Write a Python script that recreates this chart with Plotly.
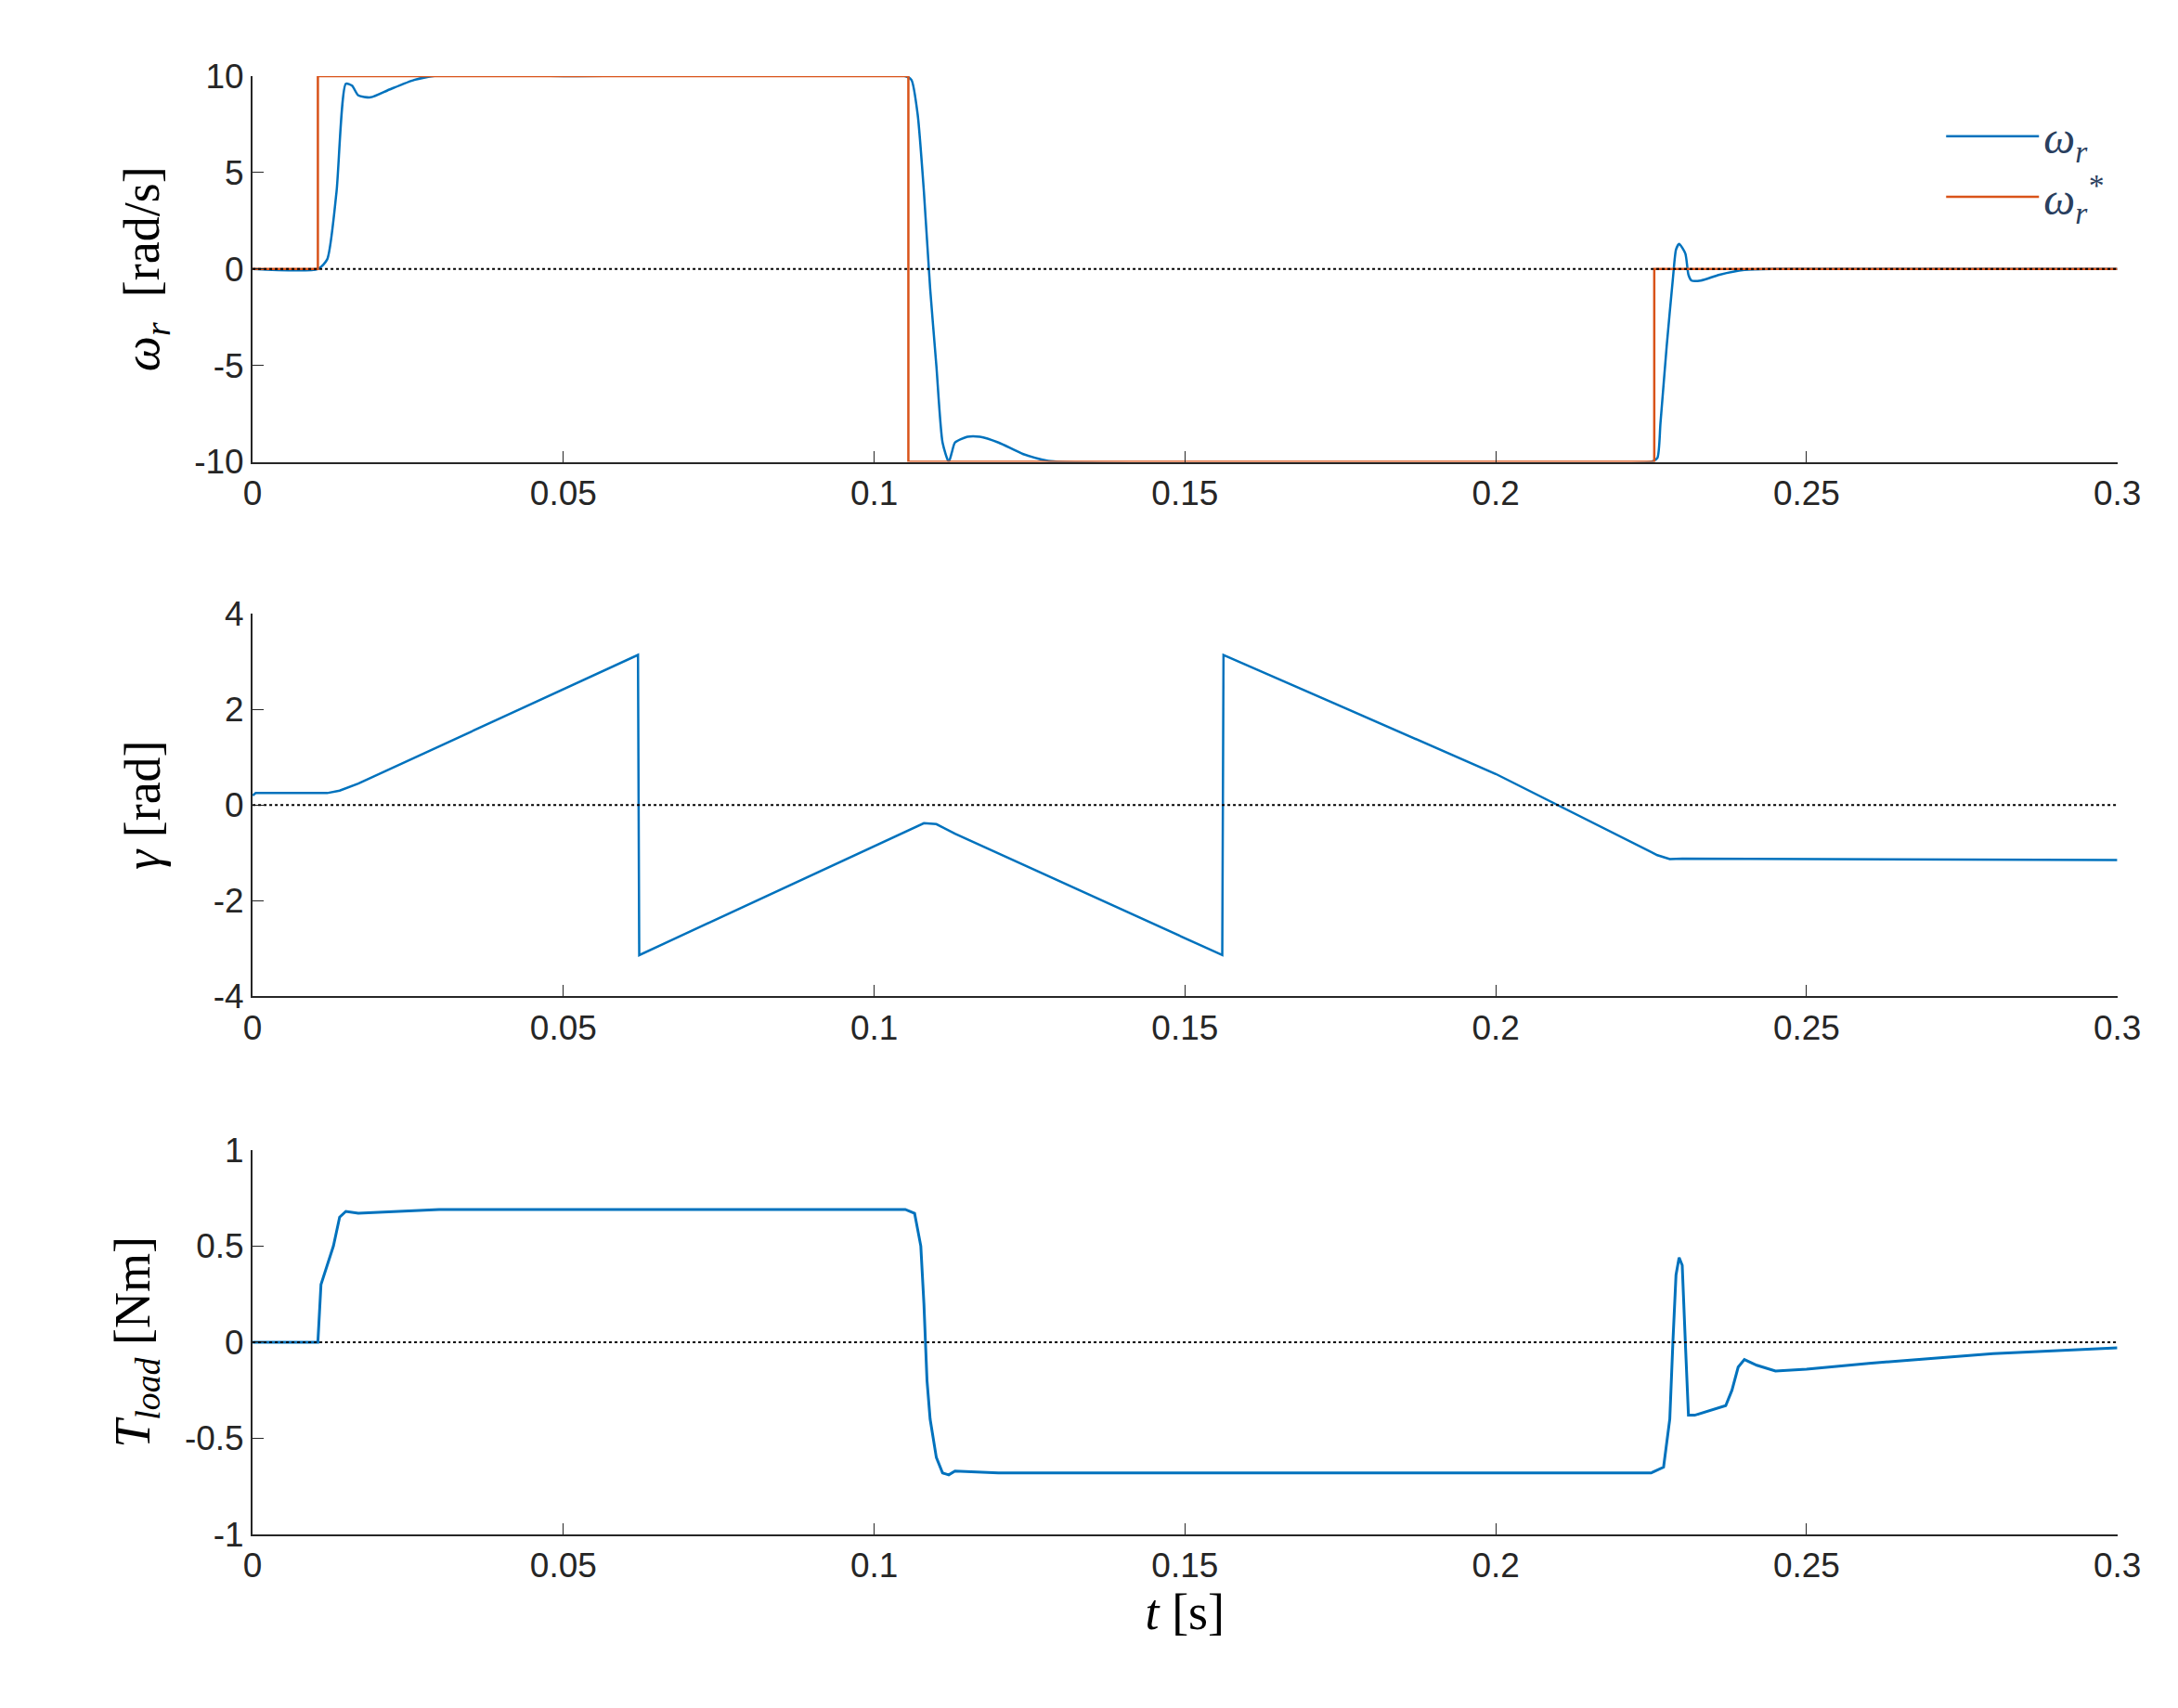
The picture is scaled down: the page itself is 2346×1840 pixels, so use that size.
import plotly.graph_objects as go

t_w = [0,0.0105,0.012,0.0135,0.015,0.016,0.017,0.019,0.022,0.026,0.03,0.034,0.04,0.05,0.105,0.106,0.107,0.108,0.109,0.110,0.111,0.112,0.1125,0.113,0.115,0.117,0.12,0.124,0.128,0.135,0.225,0.226,0.2265,0.2275,0.2285,0.229,0.2295,0.2305,0.231,0.2315,0.233,0.236,0.24,0.245,0.3]
w_r = [0,0,0.5,4,9.6,9.5,9.0,8.9,9.3,9.8,10.05,10.1,10.05,10,10,9.8,8,4,-1,-5,-9,-10,-9.5,-9,-8.7,-8.7,-9.0,-9.6,-9.95,-10.05,-10,-9.8,-8,-4,-0.5,1,1.3,0.8,-0.3,-0.6,-0.6,-0.3,-0.05,0,0]
t_ref = [0,0.0105,0.0105,0.1055,0.1055,0.2255,0.2255,0.3]
w_ref = [0,0,10,10,-10,-10,0,0]
t_g = [0,0.0005,0.012,0.014,0.017,0.062,0.0622,0.106,0.108,0.110,0.113,0.156,0.1562,0.2,0.226,0.228,0.23,0.3]
gam = [0.2,0.25,0.25,0.3,0.45,3.14,-3.14,-0.5,-0.38,-0.4,-0.6,-3.14,3.14,0.65,-1.05,-1.13,-1.12,-1.15]
t_T = [0,0.0105,0.011,0.013,0.014,0.015,0.017,0.03,0.105,0.1065,0.1075,0.108,0.1085,0.109,0.110,0.111,0.112,0.113,0.12,0.225,0.227,0.228,0.2285,0.229,0.2295,0.23,0.2305,0.231,0.232,0.237,0.238,0.239,0.240,0.242,0.245,0.25,0.26,0.28,0.3]
T_load = [0,0,0.3,0.5,0.65,0.68,0.67,0.69,0.69,0.67,0.5,0.2,-0.2,-0.4,-0.6,-0.68,-0.69,-0.67,-0.68,-0.68,-0.65,-0.4,0,0.35,0.44,0.4,0,-0.38,-0.38,-0.33,-0.25,-0.13,-0.09,-0.12,-0.15,-0.14,-0.11,-0.06,-0.03]

BLUE = "#0072BD"; RED = "#D95319"
fig = go.Figure()
fig.add_trace(go.Scatter(x=t_w, y=w_r, mode="lines", line=dict(color=BLUE, width=2.5, shape="spline", smoothing=0.6), name="<i>ω<sub>r</sub></i>", xaxis="x", yaxis="y"))
fig.add_trace(go.Scatter(x=t_ref, y=w_ref, mode="lines", line=dict(color=RED, width=2.5), name="<i>ω<sub>r</sub><sup>*</sup></i>", xaxis="x", yaxis="y"))
fig.add_trace(go.Scatter(x=t_g, y=gam, mode="lines", line=dict(color=BLUE, width=2.5), showlegend=False, xaxis="x2", yaxis="y2"))
fig.add_trace(go.Scatter(x=t_T, y=T_load, mode="lines", line=dict(color=BLUE, width=3), showlegend=False, xaxis="x3", yaxis="y3"))

for xa, ya in [("x", "y"), ("x2", "y2"), ("x3", "y3")]:
    fig.add_shape(type="line", xref=xa, yref=ya, x0=0, x1=0.3, y0=0, y1=0, line=dict(color="black", width=2, dash="dot"))

tickfont = dict(family="Liberation Sans, Arial", size=37, color="#262626")
xcommon = dict(range=[0, 0.3], tickvals=[0,0.05,0.1,0.15,0.2,0.25,0.3], ticktext=["0","0.05","0.1","0.15","0.2","0.25","0.3"],
               showline=True, linecolor="#262626", linewidth=2, ticks="inside", ticklen=12, tickcolor="#262626",
               showgrid=False, zeroline=False, tickfont=tickfont, domain=[0.110, 0.9795])
ycommon = dict(showline=True, linecolor="#262626", linewidth=2, ticks="inside", ticklen=12, tickcolor="#262626",
               showgrid=False, zeroline=False, tickfont=tickfont)
lf = dict(family="Liberation Serif, DejaVu Serif", size=54, color="black")
fig.update_layout(
    width=2346, height=1840, plot_bgcolor="white", paper_bgcolor="white",
    margin=dict(l=0, r=0, t=0, b=0),
    xaxis=dict(**xcommon, anchor="y"),
    xaxis2=dict(**xcommon, anchor="y2"),
    xaxis3=dict(**xcommon, anchor="y3", title=dict(text="<i>t</i> [s]", font=lf, standoff=10)),
    yaxis=dict(**ycommon, domain=[0.739, 0.970], range=[-10, 10], tickvals=[-10,-5,0,5,10], ticktext=["-10","-5","0","5","10"], anchor="x",
               title=dict(text="<i>ω<sub>r</sub></i>  [rad/s]", font=lf, standoff=20)),
    yaxis2=dict(**ycommon, domain=[0.419, 0.648], range=[-4, 4], tickvals=[-4,-2,0,2,4], ticktext=["-4","-2","0","2","4"], anchor="x2",
                title=dict(text="<i>γ</i> [rad]", font=lf, standoff=40)),
    yaxis3=dict(**ycommon, domain=[0.0967, 0.327], range=[-1, 1], tickvals=[-1,-0.5,0,0.5,1], ticktext=["-1","-0.5","0","0.5","1"], anchor="x3",
                title=dict(text="<i>T<sub>load</sub></i> [Nm]", font=lf, standoff=20)),
    legend=dict(x=0.975, y=0.955, xanchor="right", yanchor="top", font=dict(family="Liberation Serif", size=48),
                bgcolor="rgba(255,255,255,0)", itemwidth=100),
)
fig.write_html("out.html")
